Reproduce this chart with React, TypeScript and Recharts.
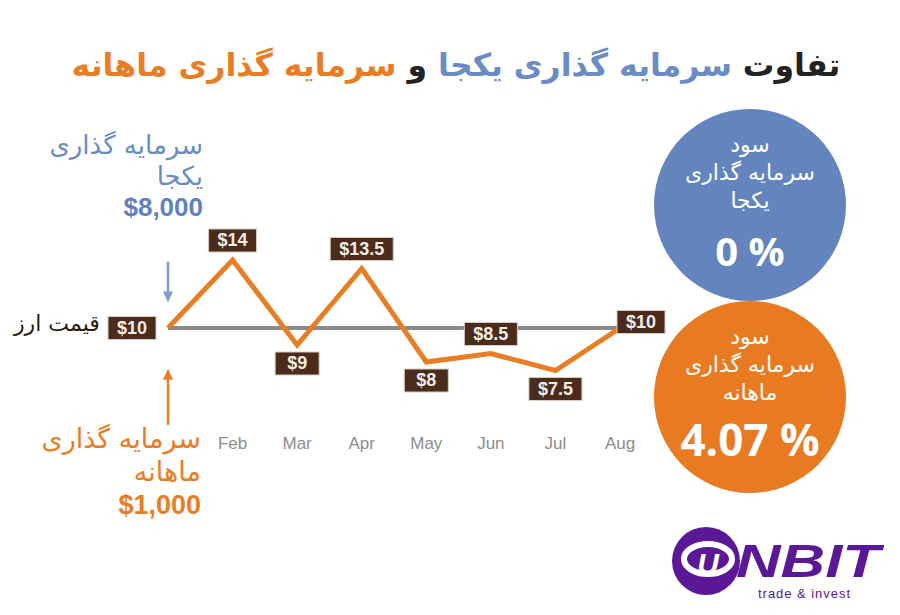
import { LineChart, Line, XAxis, YAxis, ReferenceLine, LabelList } from "recharts";

const months = ["Jan", "Feb", "Mar", "Apr", "May", "Jun", "Jul", "Aug"];
const prices = [10, 14, 9, 13.5, 8, 8.5, 7.5, 10];
const basePrice = 10;
// arrow annotations at the first month (tail -> head, in price units)
const lumpArrow = [13.9, 11.5];
const monthlyArrow = [4.3, 7.6];

const data = months.map((m, i) => ({ month: m, price: prices[i] }));

const BLUE = "#6a8bc4";
const ORANGE = "#e87d24";
const BROWN = "#4a2b1c";
const FA = "'DejaVu Sans', 'Noto Sans', sans-serif";
const LAT = "'Liberation Sans', Arial, sans-serif";

function labelSide(i: number) {
  if (i === 0) return "left";
  if (i === prices.length - 1) return "right";
  const prev = prices[i - 1];
  const next = prices[i + 1];
  return prices[i] >= prev && prices[i] >= next ? "top" : "bottom";
}

function PriceLabel(props: any) {
  const { x, y, value, index } = props;
  const text = `$${value}`;
  const w = Math.max(44, 18 + [...text].reduce((s, c) => s + (c === "." ? 5 : 10), 0));
  const h = 23;
  const side = labelSide(index);
  let bx = x - w / 2;
  let by = y - h - 8;
  if (side === "bottom") by = y + 7;
  if (side === "left") {
    bx = x - 12 - w;
    by = y - h / 2;
  }
  if (side === "right") {
    bx = x - 3;
    by = y - h / 2 - 6;
  }
  return (
    <g>
      <rect x={bx} y={by} width={w} height={h} fill={BROWN} stroke="#d9cbbd" strokeWidth={1} />
      <text
        x={bx + w / 2}
        y={by + h / 2 + 1}
        textAnchor="middle"
        dominantBaseline="middle"
        fill="#f4ede6"
        fontSize={18}
        fontWeight="bold"
        fontFamily={LAT}
      >
        {text}
      </text>
    </g>
  );
}

function arrowShape(color: string) {
  return (p: any) => {
    const { x1, y1, x2, y2 } = p;
    const dir = y2 > y1 ? 1 : -1;
    return (
      <g>
        <line x1={x1} y1={y1} x2={x2} y2={y2 - dir * 9} stroke={color} strokeWidth={2.5} />
        <path d={`M${x2 - 5},${y2 - dir * 11} L${x2 + 5},${y2 - dir * 11} L${x2},${y2} Z`} fill={color} />
      </g>
    );
  };
}

const circle = (top: number, color: string): React.CSSProperties => ({
  position: "absolute",
  left: 654,
  top,
  width: 192,
  height: 192,
  borderRadius: "50%",
  background: color,
  color: "#fff",
  textAlign: "center",
});

export default function App() {
  return (
    <div style={{ position: "absolute", left: 0, top: 0, width: 900, height: 615, background: "#fff", overflow: "hidden" }}>
      <LineChart
        width={900}
        height={615}
        data={data}
        margin={{ top: 226, right: 280, bottom: 172, left: 168 }}
        style={{ position: "absolute", left: 0, top: 0 }}
      >
        <XAxis
          dataKey="month"
          scale="point"
          padding={{ left: 0, right: 0 }}
          axisLine={false}
          tickLine={false}
          interval={0}
          height={30}
          tickMargin={18}
          tick={{ fill: "#8c8c8c", fontSize: 17, fontFamily: LAT }}
          tickFormatter={(v: string, i: number) => (i === 0 ? "" : v)}
        />
        <YAxis hide type="number" domain={[5, 16]} />
        <ReferenceLine y={basePrice} stroke="#8a8a8a" strokeWidth={4} />
        <ReferenceLine
          ifOverflow="visible"
          segment={[{ x: months[0], y: lumpArrow[0] }, { x: months[0], y: lumpArrow[1] }]}
          shape={arrowShape("#7fa0cf")}
        />
        <ReferenceLine
          ifOverflow="visible"
          segment={[{ x: months[0], y: monthlyArrow[0] }, { x: months[0], y: monthlyArrow[1] }]}
          shape={arrowShape(ORANGE)}
        />
        <Line
          type="linear"
          dataKey="price"
          stroke={ORANGE}
          strokeWidth={5}
          dot={false}
          isAnimationActive={false}
        >
          <LabelList dataKey="price" content={PriceLabel} />
        </Line>
      </LineChart>

      <div
        dir="rtl"
        style={{ position: "absolute", left: 0, width: 912, top: 47, textAlign: "center", fontFamily: FA, fontWeight: "bold", fontSize: 31.5, color: "#222" }}
      >
        تفاوت <span style={{ color: BLUE }}>سرمایه گذاری یکجا</span> و{" "}
        <span style={{ color: ORANGE }}>سرمایه گذاری ماهانه</span>
      </div>

      <div dir="rtl" style={{ position: "absolute", right: 697, top: 130, textAlign: "right", fontFamily: FA, fontSize: 26, lineHeight: "31px", color: BLUE }}>
        سرمایه گذاری
        <br />
        یکجا
        <br />
        <span style={{ fontFamily: LAT, fontWeight: "bold", color: "#5f82bf" }}>$8,000</span>
      </div>

      <div dir="rtl" style={{ position: "absolute", left: 14, top: 311, fontFamily: FA, fontSize: 22, color: "#2a1a10" }}>
        قیمت ارز
      </div>

      <div dir="rtl" style={{ position: "absolute", right: 699, top: 422, textAlign: "right", fontFamily: FA, fontSize: 27, lineHeight: "33px", color: ORANGE }}>
        سرمایه گذاری
        <br />
        ماهانه
        <br />
        <span style={{ fontFamily: LAT, fontWeight: "bold" }}>$1,000</span>
      </div>

      <div style={circle(109, "#6384bc")}>
        <div dir="rtl" style={{ marginTop: 22, fontFamily: FA, fontSize: 22, lineHeight: "28px" }}>
          سود
          <br />
          سرمایه گذاری
          <br />
          یکجا
        </div>
        <div style={{ marginTop: 8, fontFamily: "'Open Sans', sans-serif", fontWeight: "bold", fontSize: 40 }}>0 %</div>
      </div>

      <div style={circle(301, "#e87a22")}>
        <div dir="rtl" style={{ marginTop: 22, fontFamily: FA, fontSize: 22, lineHeight: "28px" }}>
          سود
          <br />
          سرمایه گذاری
          <br />
          ماهانه
        </div>
        <div style={{ marginTop: 2, fontFamily: "'Open Sans', sans-serif", fontWeight: "bold", fontSize: 44 }}>4.07 %</div>
      </div>

      <svg style={{ position: "absolute", left: 668, top: 522 }} width={220} height={84}>
        <circle cx={38} cy={39} r={34} fill="#5a1896" />
        <ellipse cx={40} cy={37} rx={24} ry={15} fill="none" stroke="#fff" strokeWidth={6} />
        <text x={40} y={52} textAnchor="middle" fill="#fff" fontSize={30} fontWeight="bold" fontStyle="italic" fontFamily={LAT}>
          U
        </text>
        <text
          x={68}
          y={55}
          fill="#5a1896"
          fontSize={46}
          fontWeight="bold"
          fontStyle="italic"
          fontFamily={LAT}
          textLength={144}
          lengthAdjust="spacingAndGlyphs"
        >
          NBIT
        </text>
        <text x={90} y={76} fill="#5a1896" fontSize={13} fontFamily={LAT} textLength={92}>
          trade &amp; invest
        </text>
      </svg>
    </div>
  );
}
